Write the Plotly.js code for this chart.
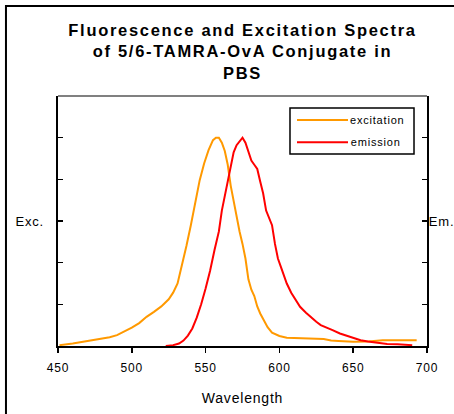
<!DOCTYPE html>
<html>
<head>
<meta charset="utf-8">
<script src="https://cdn.plot.ly/plotly-3.0.1.min.js"></script>
<style>
  html, body { margin: 0; padding: 0; background: #fff; }
  #chart { width: 454px; height: 414px; }
  #chart .main-svg text { letter-spacing: 0.8px; }
  #chart .gtitle { letter-spacing: 1.7px !important; }
</style>
</head>
<body>
<div id="chart"></div>
<script>
// Excitation spectrum (wavelength nm, relative intensity)
const excWavelength = [451,455,460,465,470,475,480,485,490,495,500,505,510,515,520,525,528,531,534,537,540,543,546,549,552,555,557,559,561,563,565,567,569,571,573,575,577,579,581,583,585,587,589,592,595,600,605,610,620,630,635,640,650,660,670,680,693];
const excIntensity = [0.02,0.03,0.06,0.09,0.12,0.15,0.18,0.21,0.26,0.34,0.44,0.55,0.70,0.82,0.95,1.12,1.28,1.50,1.92,2.40,2.90,3.45,3.98,4.38,4.70,4.94,5.00,5.00,4.88,4.68,4.35,3.85,3.45,3.10,2.75,2.45,2.10,1.60,1.35,1.20,0.95,0.78,0.65,0.45,0.32,0.24,0.20,0.19,0.18,0.17,0.13,0.12,0.10,0.11,0.14,0.14,0.14];

// Emission spectrum
const emWavelength = [523,528,532,535,538,541,544,547,550,553,556,559,561,563,565,567,569,571,573,575,577,579,581,583,585,587,589,591,593,595,597,599,601,603,605,608,611,614,618,621,625,628,632,636,641,645,648,652,655,660,666,673,680,690];
const emIntensity = [0.00,0.02,0.06,0.13,0.25,0.42,0.68,1.00,1.38,1.80,2.30,2.75,3.25,3.60,3.95,4.35,4.65,4.82,4.92,5.00,4.88,4.68,4.45,4.35,4.25,3.95,3.66,3.25,3.05,2.90,2.45,2.10,1.90,1.68,1.50,1.28,1.10,0.94,0.80,0.70,0.58,0.50,0.43,0.38,0.30,0.25,0.21,0.17,0.14,0.11,0.08,0.05,0.04,0.02];

const seriesNames = ['excitation', 'emission'];
const seriesColors = ['#FF9900', '#FF0000'];
const xTicks = [450, 500, 550, 600, 650, 700];

const traces = [
  { x: excWavelength, y: excIntensity, name: seriesNames[0], type: 'scatter', mode: 'lines',
    line: { color: seriesColors[0], width: 2 }, showlegend: false },
  { x: emWavelength, y: emIntensity, name: seriesNames[1], type: 'scatter', mode: 'lines',
    line: { color: seriesColors[1], width: 2 }, showlegend: false }
];

const font = 'Arial, "Liberation Sans", sans-serif';

const layout = {
  width: 454, height: 414,
  margin: { l: 58, r: 27, t: 96, b: 68 },
  paper_bgcolor: '#ffffff', plot_bgcolor: '#ffffff',
  font: { family: font, color: '#000' },
  title: {
    text: 'Fluorescence and Excitation Spectra<br>of 5/6-TAMRA-OvA Conjugate in<br>PBS',
    font: { family: font, size: 16.5, weight: 'bold', color: '#000' },
    x: 0.5, xref: 'paper', xanchor: 'center',
    y: 1 - 36/414, yref: 'container', yanchor: 'top'
  },
  xaxis: {
    range: [450, 700], tickvals: xTicks, ticktext: xTicks.map(String),
    ticks: 'outside', ticklen: 5, tickwidth: 1.5, tickcolor: '#000',
    showline: true, linecolor: '#000', linewidth: 2, mirror: false,
    showgrid: false, zeroline: false,
    ticklabelstandoff: 5,
    tickfont: { family: font, size: 12, color: '#000' },
    title: { text: 'Wavelength', font: { family: font, size: 14, color: '#000' }, standoff: 19 }
  },
  yaxis: {
    range: [0, 6], dtick: 1, tick0: 0,
    ticks: 'inside', ticklen: 5, tickwidth: 1.5, tickcolor: '#000',
    showline: true, linecolor: '#000', linewidth: 2, mirror: 'ticks',
    showgrid: false, zeroline: false, showticklabels: false
  },
  shapes: [
    // gray top frame line
    { type: 'line', xref: 'paper', yref: 'paper', x0: 0, x1: 1, y0: 1, y1: 1,
      line: { color: '#808080', width: 2 } },
    // outer chart border (only left and top visible)
    { type: 'rect', xref: 'paper', yref: 'paper', x0: -0.141, x1: 2, y0: -1, y1: 1.36,
      line: { color: '#000', width: 2 } },
    // legend box
    { type: 'rect', xref: 'paper', yref: 'paper', x0: 0.6287, x1: 0.9648, y0: 0.768, y1: 0.952,
      line: { color: '#000', width: 1.5 }, fillcolor: 'rgba(0,0,0,0)' },
    { type: 'line', xref: 'paper', yref: 'paper', x0: 0.6477, x1: 0.7859, y0: 0.904, y1: 0.904,
      line: { color: seriesColors[0], width: 2 } },
    { type: 'line', xref: 'paper', yref: 'paper', x0: 0.6477, x1: 0.7859, y0: 0.815, y1: 0.815,
      line: { color: seriesColors[1], width: 2 } }
  ],
  annotations: [
    { text: seriesNames[0], xref: 'paper', yref: 'paper', x: 0.7967, y: 0.904,
      xanchor: 'left', yanchor: 'middle', showarrow: false,
      font: { family: font, size: 11, color: '#000' } },
    { text: seriesNames[1], xref: 'paper', yref: 'paper', x: 0.7967, y: 0.815,
      xanchor: 'left', yanchor: 'middle', showarrow: false,
      font: { family: font, size: 11, color: '#000' } },
    { text: 'Exc.', xref: 'paper', yref: 'paper', x: -0.076, y: 0.5,
      xanchor: 'center', yanchor: 'middle', showarrow: false,
      font: { family: font, size: 13, color: '#000' } },
    { text: 'Em.', xref: 'paper', yref: 'paper', x: 1.004, y: 0.5,
      xanchor: 'left', yanchor: 'middle', showarrow: false,
      font: { family: font, size: 13, color: '#000' } }
  ]
};

Plotly.newPlot('chart', traces, layout, { displayModeBar: false, staticPlot: true });
</script>
</body>
</html>
